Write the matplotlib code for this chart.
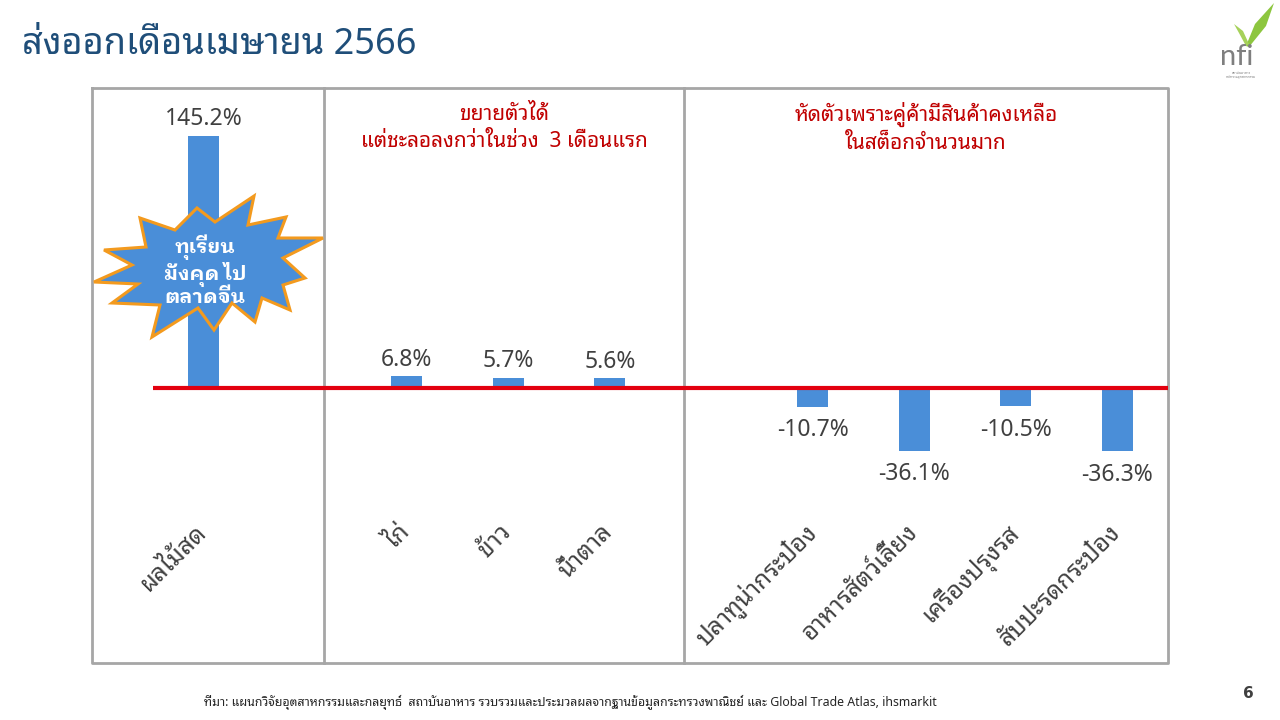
import matplotlib
matplotlib.use('Agg')
from matplotlib import pyplot as plt
from matplotlib import font_manager
from matplotlib import patheffects
from matplotlib.ft2font import FT2Font
from matplotlib.patches import Polygon
from matplotlib.lines import Line2D


# ---- data ----
fruit = ['ผลไม้สด']
fruit_vals = [145.2]
growth = ['ไก่', 'ข้าว', 'น้ำตาล']
growth_vals = [6.8, 5.7, 5.6]
decline = ['ปลาทูน่ากระป๋อง', 'อาหารสัตว์เลี้ยง', 'เครื่องปรุงรส', 'สับปะรดกระป๋อง']
decline_vals = [-10.7, -36.1, -10.5, -36.3]

title = 'ส่งออกเดือนเมษายน 2566'
note_growth = 'ขยายตัวได้\nแต่ชะลอลงกว่าในช่วง  3 เดือนแรก'
note_decline = 'หัดตัวเพราะคู่ค้ามีสินค้าคงเหลือ\nในสต็อกจำนวนมาก'
star_text = 'ทุเรียน\nมังคุด ไป\nตลาดจีน'
source = ('ที่มา: แผนกวิจัยอุตสาหกรรมและกลยุทธ์  สถาบันอาหาร รวบรวมและประมวลผล'
          'จากฐานข้อมูลกระทรวงพาณิชย์ และ Global Trade Atlas, ihsmarkit')


def thai_fonts():
    """Map font name -> set of weights, for installed fonts that have Thai glyphs."""
    found = {}
    for f in font_manager.fontManager.ttflist:
        try:
            cmap = FT2Font(f.fname).get_charmap()
        except Exception:
            continue
        if 0x0E01 in cmap and 0x0E48 in cmap:
            w = f.weight
            if isinstance(w, str):
                w = font_manager.weight_dict.get(w, 400)
            found.setdefault(f.name, set()).add(w)
    return found


def pick(found, preferred, bold=False):
    for name in preferred:
        if name in found and (not bold or max(found[name]) >= 600):
            return name
    return None


found = thai_fonts()
thai = pick(found, ['Noto Sans Thai Looped', 'Noto Sans Thai', 'Loma', 'Sarabun']) or 'DejaVu Sans'
plain = pick(found, ['Noto Sans Thai', 'Noto Sans Thai UI']) or thai
bold_font = pick(found, ['Noto Sans Thai', 'Noto Sans Thai Looped', 'IBM Plex Sans Thai Looped',
                         'IBM Plex Sans Thai', 'Anuphan', 'Sarabun', 'Loma'], bold=True)
THAI = [thai, 'Noto Sans', 'DejaVu Sans']
NUM = [plain, 'Noto Sans', 'DejaVu Sans']
plt.rcParams['font.family'] = THAI

W, H = 1280, 720


def fx(x):
    return x / W


def fy(y):
    return 1 - y / H


fig = plt.figure(figsize=(12.8, 7.2), dpi=100)
fig.patch.set_facecolor('white')

# axes: x from 153 to 1168 px, y from 100 to 522 px, zero line at 388 px
ax_top, ax_bot, zero_px = 100, 522, 388
px_per_unit = 252 / 145.2
ax = fig.add_axes([fx(153), fy(ax_bot), fx(1168) - fx(153), (ax_bot - ax_top) / H])
ax.patch.set_visible(False)

groups = [(fruit, fruit_vals), (growth, growth_vals), (decline, decline_vals)]
positions, labels, values = [], [], []
pos = 0
for names, vals in groups:
    for n, v in zip(names, vals):
        positions.append(pos)
        labels.append(n)
        values.append(v)
        pos += 1
    pos += 1  # empty slot between groups

bar_color = '#4A8ED8'
ax.bar(positions, values, width=0.31, color=bar_color, zorder=2)
ax.axhline(0, color='#E3000F', lw=3, zorder=3)

for x, v in zip(positions, values):
    off = 12 if v > 0 else -17
    ax.annotate(f'{v:.1f}%', (x, v), xytext=(0, off), textcoords='offset points',
                ha='center', va='center', fontsize=16.5, color='#404040', family=NUM)

ax.set_xlim(-0.5, 9.5)
ax.set_ylim(-(ax_bot - zero_px) / px_per_unit, (zero_px - ax_top) / px_per_unit)
ax.set_xticks(positions)
ax.set_xticklabels(labels, rotation=45, ha='right', va='center',
                   rotation_mode='anchor', fontsize=17.5, color='#404040')
ax.tick_params(axis='x', length=0, pad=5)
ax.set_yticks([])
for s in ax.spines.values():
    s.set_visible(False)

# frame and dividers
frame_c = '#A6A6A6'
for xs, ys in [([92, 1168, 1168, 92, 92], [88, 88, 663, 663, 88]),
               ([324, 324], [88, 663]), ([684, 684], [88, 663])]:
    fig.add_artist(Line2D([fx(x) for x in xs], [fy(y) for y in ys],
                          color=frame_c, lw=2, zorder=-1))

# title
fig.text(fx(22), fy(45), title, fontsize=26, color='#1F4E79', ha='left', va='center')

# group notes
fig.text(fx(504), fy(128), note_growth, fontsize=15, color='#C00000',
         ha='center', va='center', linespacing=1.38)
fig.text(fx(926), fy(128), note_decline, fontsize=15, color='#C00000',
         ha='center', va='center', linespacing=1.38)

# starburst callout
star_px = [(140, 218), (175, 230), (197, 208), (215, 222), (254, 196), (248, 225),
           (286, 217), (278, 238), (323, 238), (283, 258), (305, 278), (283, 285),
           (290, 310), (262, 298), (255, 322), (232, 303), (214, 330), (198, 308),
           (152, 337), (160, 305), (112, 303), (138, 284), (94, 282), (132, 265),
           (104, 250), (146, 247)]
fig.add_artist(Polygon([(fx(x), fy(y)) for x, y in star_px], closed=True,
                       transform=fig.transFigure, facecolor=bar_color,
                       edgecolor='#F39A1E', lw=2.2, zorder=4))
if bold_font:
    star_kw = dict(family=[bold_font, 'DejaVu Sans'], fontweight='bold')
else:
    star_kw = dict(family=NUM, path_effects=[patheffects.withStroke(linewidth=1.3,
                                                                     foreground='white')])
fig.text(fx(205), fy(271), star_text, fontsize=14.5, color='white',
         ha='center', va='center', linespacing=1.1, zorder=5, **star_kw)

# logo
leaf_big = [(1246, 46), (1255, 24), (1274, 3), (1266, 26), (1249, 47)]
leaf_small = [(1246, 46), (1239, 33), (1234, 24), (1243, 31), (1249, 44)]
for pts, c in [(leaf_big, '#8DC63F'), (leaf_small, '#A6D15A')]:
    fig.add_artist(Polygon([(fx(x), fy(y)) for x, y in pts], closed=True,
                           transform=fig.transFigure, facecolor=c, edgecolor='none'))
fig.text(fx(1237), fy(65), 'nfi', fontsize=21, color='#7F7F7F', ha='center',
         va='baseline', family=['Lato', 'DejaVu Sans'])
fig.text(fx(1241), fy(75), 'สถาบันอาหาร\nกระทรวงอุตสาหกรรม', fontsize=2.5,
         color='#808080', ha='center', va='center')

# footer
fig.text(fx(570), fy(702), source, fontsize=8.9, color='#262626', ha='center', va='center')
fig.text(fx(1248), fy(694), '6', fontsize=11, fontweight='bold', color='#404040',
         ha='center', va='center', family=['DejaVu Sans'])

fig.savefig('out.png', dpi=100)
